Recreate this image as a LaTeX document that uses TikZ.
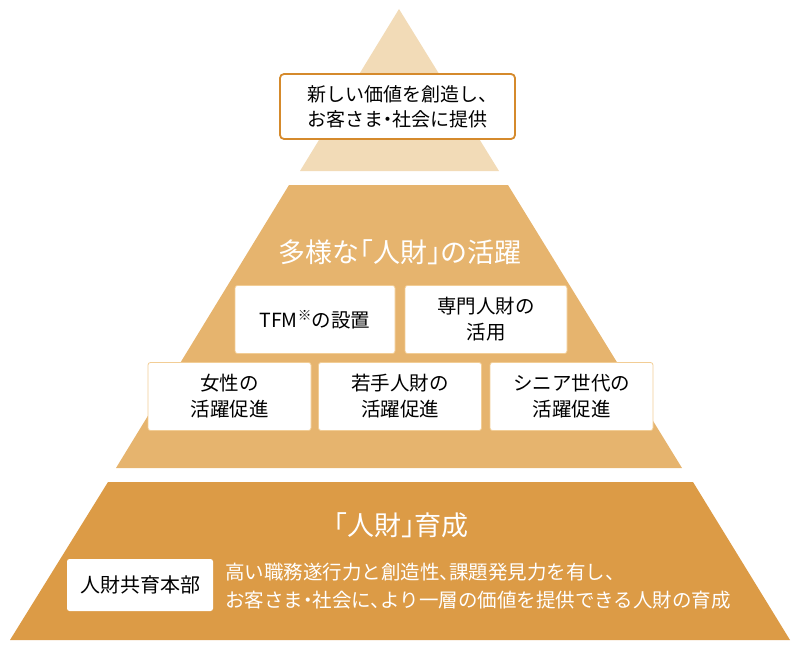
\documentclass[tikz,border=0pt]{standalone}
\usepackage{fontspec}
\setmainfont[RawFeature=+halt]{Noto Sans CJK JP}
\usetikzlibrary{positioning}
\definecolor{topc}{HTML}{F2DBB7}
\definecolor{midc}{HTML}{E6B46E}
\definecolor{basec}{HTML}{DC9B46}
\definecolor{framec}{HTML}{D58A2C}
\definecolor{edgec}{HTML}{F2CD95}
\tikzset{
  goal/.style={draw=framec,line width=1.8pt,fill=white,rounded corners=4pt,minimum width=235pt,minimum height=65pt,inner sep=0pt,align=center,font=\fontsize{19}{25}\selectfont},
  item/.style={draw=edgec,line width=0.8pt,fill=white,rounded corners=2.5pt,minimum height=68pt,inner sep=0pt,align=center,font=\fontsize{19.5}{26}\selectfont},
  head/.style={text=white,inner sep=0pt,font=\fontsize{27}{30}\selectfont},
  dept/.style={fill=white,rounded corners=2.5pt,minimum width=146pt,minimum height=52pt,inner sep=0pt,font=\fontsize{20}{22}\selectfont},
  desc/.style={text=white,anchor=west,inner sep=0pt,align=left,font=\fontsize{19.5}{28}\selectfont},
}
\newcommand{\itembox}[4][163pt]{\node[item,minimum width=#1] (#2) at (#3) {#4};}

\begin{document}
\begin{tikzpicture}[x=1pt,y=-1pt]
  \useasboundingbox (0,0) rectangle (800,650);
  \fill[topc] (399,9) -- (499,171) -- (300,171) -- cycle;
  \fill[midc] (289,185) -- (508,185) -- (682,468) -- (116,468) -- cycle;
  \fill[basec] (108,482) -- (693,482) -- (790,640) -- (10,640) -- cycle;
  \node[goal] (goal) at (397.5,106.5) {新しい価値を創造し、\\お客さま・社会に提供};
  \node[head] (midhead) at (400,252) {多様な「人財」の活躍};
  \itembox[160pt]{tfm}{315,319.5}{TFM\textsuperscript{※}の設置}
  \itembox[162pt]{expert}{486,319.5}{専門人財の\\活用}
  \itembox{women}{229.5,396.5}{女性の\\活躍促進}
  \itembox{young}{400,396.5}{若手人財の\\活躍促進}
  \itembox{senior}{571.5,396.5}{シニア世代の\\活躍促進}
  \node[head] (basehead) at (401,525) {「人財」育成};
  \node[dept] (dept) at (140,585) {人財共育本部};
  \node[desc] (aim) at (225,586) {高い職務遂行力と創造性、課題発見力を有し、\\お客さま・社会に、より一層の価値を提供できる人財の育成};
\end{tikzpicture}
\end{document}
